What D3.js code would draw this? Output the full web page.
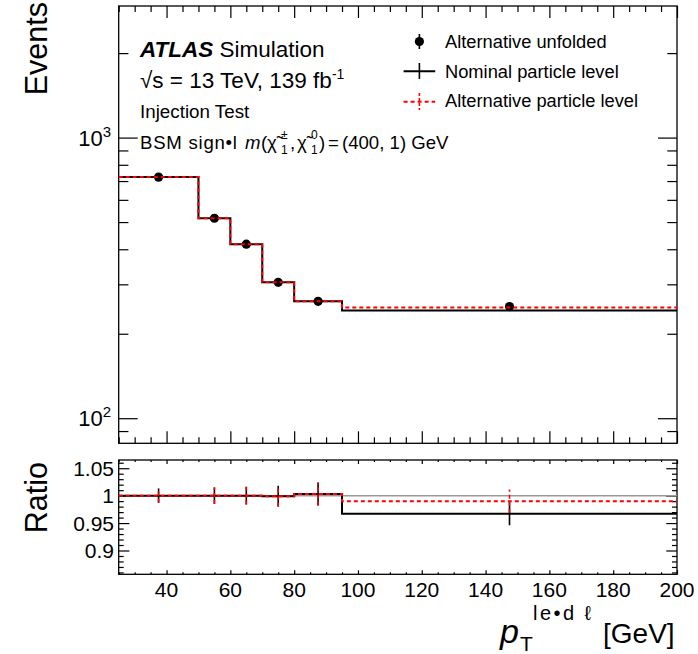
<!DOCTYPE html>
<html><head><meta charset="utf-8">
<script src="https://cdn.jsdelivr.net/npm/d3@7"></script>
<style>body{margin:0;background:#fff}svg{display:block}text{font-family:"Liberation Sans",Arial,Helvetica,sans-serif}</style>
</head><body>
<svg id="c" width="698" height="654"></svg>
<script>
// ---- data ----
const binEdges = [25, 50, 60, 70, 80, 95, 200];
const unfolded = [723, 516, 417, 305, 261, 250];
const unfoldedErr = [9, 8, 7, 6, 5, 5];
const nominal = [723, 516, 417, 305, 261, 242];
const alternative = [723, 516, 417, 305, 261, 248];
const ratioNominal = [1.0, 1.0, 1.0, 0.999, 1.003, 0.967];
const ratioAlternative = [1.0, 1.0, 1.0, 0.999, 1.003, 0.990];
const ratioErr = [0.013, 0.015, 0.016, 0.019, 0.021, 0.021];
const xMajor = [40, 60, 80, 100, 120, 140, 160, 180, 200];
const yTopMajor = [100, 1000];
const yTopMinor = [90, 200, 300, 400, 500, 600, 700, 800, 900, 2000];
const yRatioMajor = [0.9, 0.95, 1, 1.05];
const yRatioLabels = ["0.9", "0.95", "1", "1.05"];

// ---- layout ----
const L = 118.7, R = 677;
const topT = 6, topB = 443.3, ratT = 460, ratB = 574.3;
const svg = d3.select("#c");
const x = d3.scaleLinear().domain([25, 200]).range([L, R]);
const y = d3.scaleLog().domain([81.4, 2944]).range([topB, topT]);
const yr = d3.scaleLinear().domain([0.8566, 1.065]).range([ratB, ratT]);
const xMinor = d3.range(25, 201, 5).filter(v => !xMajor.includes(v));
const yRatioMinor = d3.range(86, 107, 1).map(v => v / 100).filter(v => !yRatioMajor.some(m => Math.abs(m - v) < 1e-6));
const centers = binEdges.slice(0, -1).map((e, i) => (e + binEdges[i + 1]) / 2);
const stepPts = vals => vals.map((v, i) => [binEdges[i], v]).concat([[binEdges[binEdges.length - 1], vals[vals.length - 1]]]);

function tickAxis(g, axisFn, scale, vals, size) {
  g.call(axisFn(scale).tickValues(vals).tickSize(size).tickFormat(""));
  g.select(".domain").remove();
  g.selectAll("line").attr("stroke", "#000").attr("stroke-width", 1.2);
}
function panelAxes(yb, yt, ys, yMaj, yMin, xMajLen, xMinLen, yMajLen, yMinLen) {
  tickAxis(svg.append("g").attr("transform", `translate(0,${yb})`), d3.axisBottom, x, xMajor, -xMajLen);
  tickAxis(svg.append("g").attr("transform", `translate(0,${yb})`), d3.axisBottom, x, xMinor, -xMinLen);
  tickAxis(svg.append("g").attr("transform", `translate(0,${yt})`), d3.axisTop, x, xMajor, -xMajLen);
  tickAxis(svg.append("g").attr("transform", `translate(0,${yt})`), d3.axisTop, x, xMinor, -xMinLen);
  tickAxis(svg.append("g").attr("transform", `translate(${L},0)`), d3.axisLeft, ys, yMaj, -yMajLen);
  tickAxis(svg.append("g").attr("transform", `translate(${L},0)`), d3.axisLeft, ys, yMin, -yMinLen);
  tickAxis(svg.append("g").attr("transform", `translate(${R},0)`), d3.axisRight, ys, yMaj, -yMajLen);
  tickAxis(svg.append("g").attr("transform", `translate(${R},0)`), d3.axisRight, ys, yMin, -yMinLen);
  svg.append("rect").attr("x", L).attr("y", yt).attr("width", R - L).attr("height", yb - yt)
    .attr("fill", "none").attr("stroke", "#000").attr("stroke-width", 1.3);
}

// ---- top panel ----
panelAxes(topB, topT, y, yTopMajor, yTopMinor, 12, 6, 19, 9.7);
const lineTop = d3.line().x(d => x(d[0])).y(d => y(d[1])).curve(d3.curveStepAfter);
svg.append("path").attr("d", lineTop(stepPts(nominal))).attr("fill", "none").attr("stroke", "#000").attr("stroke-width", 2);
const pts = svg.append("g");
unfolded.forEach((v, i) => {
  pts.append("line").attr("x1", x(centers[i])).attr("x2", x(centers[i]))
    .attr("y1", y(v - unfoldedErr[i])).attr("y2", y(v + unfoldedErr[i])).attr("stroke", "#000").attr("stroke-width", 1.5);
  pts.append("circle").attr("cx", x(centers[i])).attr("cy", y(v)).attr("r", 4.6).attr("fill", "#000");
});
svg.append("path").attr("d", lineTop(stepPts(alternative))).attr("fill", "none").attr("stroke", "#ff0000")
  .attr("stroke-width", 2).attr("stroke-dasharray", "4,3");

// y tick labels (top)
const yLab = svg.append("g");
yTopMajor.forEach(v => {
  const t = yLab.append("text").attr("x", 111).attr("y", y(v) + 8).attr("text-anchor", "end").attr("font-size", 22);
  t.append("tspan").text("10");
  t.append("tspan").attr("dy", -9).attr("font-size", 15).text(Math.round(Math.log10(v)));
});

// ---- ratio panel ----
panelAxes(ratB, ratT, yr, yRatioMajor, yRatioMinor, 4, 2, 10.7, 5);
svg.append("line").attr("x1", x(25)).attr("x2", x(200)).attr("y1", yr(1)).attr("y2", yr(1))
  .attr("stroke", "#999").attr("stroke-width", 1.5);
const lineR = d3.line().x(d => x(d[0])).y(d => yr(d[1])).curve(d3.curveStepAfter);
svg.append("path").attr("d", lineR(stepPts(ratioNominal))).attr("fill", "none").attr("stroke", "#000").attr("stroke-width", 2);
svg.append("path").attr("d", lineR(stepPts(ratioAlternative))).attr("fill", "none").attr("stroke", "#ff0000")
  .attr("stroke-width", 2).attr("stroke-dasharray", "4,3");
ratioNominal.forEach((v, i) => {
  svg.append("line").attr("x1", x(centers[i])).attr("x2", x(centers[i]))
    .attr("y1", yr(v - ratioErr[i])).attr("y2", yr(v + ratioErr[i])).attr("stroke", "#000").attr("stroke-width", 1.6);
});
ratioAlternative.forEach((v, i) => {
  svg.append("line").attr("x1", x(centers[i])).attr("x2", x(centers[i]))
    .attr("y1", yr(v - ratioErr[i])).attr("y2", yr(v + ratioErr[i])).attr("stroke", "#ff0000")
    .attr("stroke-width", 1.6).attr("stroke-dasharray", "4,3");
});
yRatioMajor.forEach((v, i) => {
  svg.append("text").attr("x", 114).attr("y", yr(v) + 7.5).attr("text-anchor", "end").attr("font-size", 21).text(yRatioLabels[i]);
});
xMajor.forEach(v => {
  svg.append("text").attr("x", x(v)).attr("y", 597).attr("text-anchor", "middle").attr("font-size", 21).text(v);
});

// ---- axis titles ----
svg.append("text").attr("transform", "translate(47,2) rotate(-90)").attr("text-anchor", "end").attr("font-size", 30.5).text("Events");
svg.append("text").attr("transform", "translate(47,462) rotate(-90)").attr("text-anchor", "end").attr("font-size", 30.5).text("Ratio");
const xt = svg.append("text").attr("font-size", 28);
xt.append("tspan").attr("x", 500).attr("y", 643).attr("font-size", 34).attr("font-style", "italic").text("p");
xt.append("tspan").attr("x", 520).attr("y", 651).attr("font-size", 21).text("T");
xt.append("tspan").attr("x", 533).attr("y", 620).attr("font-size", 20).attr("textLength", 58).attr("lengthAdjust", "spacing").text("le\u2022d \u2113");
xt.append("tspan").attr("x", 603).attr("y", 643).text("[GeV]");

// ---- labels ----
const t1 = svg.append("text").attr("x", 140).attr("y", 57).attr("font-size", 22.5);
t1.append("tspan").attr("font-weight", "bold").attr("font-style", "italic").text("ATLAS");
t1.append("tspan").text(" Simulation");
const t2 = svg.append("text").attr("x", 140).attr("y", 88).attr("font-size", 22.5);
t2.append("tspan").text("\u221As = 13 TeV, 139 fb");
t2.append("tspan").attr("dy", -9).attr("font-size", 14).text("-1");
svg.append("text").attr("x", 140).attr("y", 118).attr("font-size", 18.8).text("Injection Test");
// BSM signal line, one text element with positioned segments
const bsmY = 149, sfs = 12;
const bsm = svg.append("text").attr("font-size", 18.6);
const seg = (xx, yy, txt, extra) => { const s = bsm.append("tspan").attr("x", xx).attr("y", yy).text(txt); if (extra) extra(s); return s; };
seg(140, bsmY, "BSM sign\u2022l", s => s.attr("textLength", 97).attr("lengthAdjust", "spacing"));
seg(245, bsmY, "m", s => s.attr("font-style", "italic"));
seg(261, bsmY, "(");
seg(267, bsmY, "\u03C7\u0303");
seg(281, bsmY - 10, "\u00B1", s => s.attr("font-size", sfs));
seg(281, bsmY + 5, "1", s => s.attr("font-size", sfs));
seg(290, bsmY, ",");
seg(297, bsmY, "\u03C7\u0303");
seg(311, bsmY - 10, "0", s => s.attr("font-size", sfs));
seg(311, bsmY + 5, "1", s => s.attr("font-size", sfs));
seg(319, bsmY, ")");
seg(328, bsmY, "=");
seg(342, bsmY, "(400, 1) GeV");

// ---- legend ----
const lg = svg.append("g");
const lx = 419.4;
lg.append("line").attr("x1", lx).attr("x2", lx).attr("y1", 34).attr("y2", 49).attr("stroke", "#000").attr("stroke-width", 1.6);
lg.append("circle").attr("cx", lx).attr("cy", 41.5).attr("r", 4.6).attr("fill", "#000");
lg.append("text").attr("x", 445).attr("y", 48).attr("font-size", 18.3).text("Alternative unfolded");
lg.append("line").attr("x1", 403.6).attr("x2", 435.2).attr("y1", 71.3).attr("y2", 71.3).attr("stroke", "#000").attr("stroke-width", 2);
lg.append("line").attr("x1", lx).attr("x2", lx).attr("y1", 63).attr("y2", 79).attr("stroke", "#000").attr("stroke-width", 1.6);
lg.append("text").attr("x", 445).attr("y", 77.5).attr("font-size", 18.3).text("Nominal particle level");
lg.append("line").attr("x1", 403.6).attr("x2", 435.2).attr("y1", 101.8).attr("y2", 101.8).attr("stroke", "#ff0000").attr("stroke-width", 2).attr("stroke-dasharray", "4,3");
lg.append("line").attr("x1", lx).attr("x2", lx).attr("y1", 93).attr("y2", 110).attr("stroke", "#ff0000").attr("stroke-width", 1.6).attr("stroke-dasharray", "3,2");
lg.append("text").attr("x", 445).attr("y", 107).attr("font-size", 18.3).text("Alternative particle level");
</script>
</body></html>
